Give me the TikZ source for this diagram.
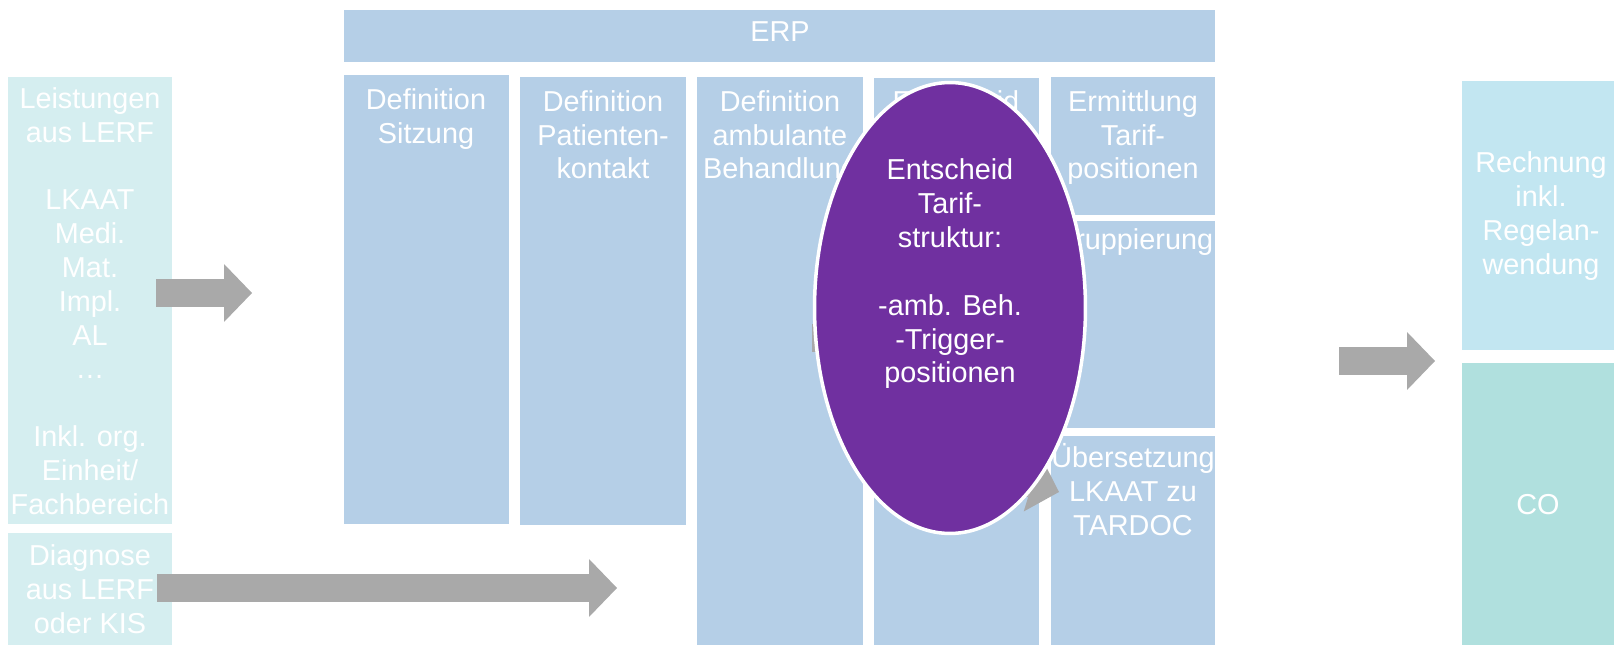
\documentclass[tikz,border=0pt]{standalone}
\usepackage{fontspec}
\setmainfont{Liberation Sans}
\usetikzlibrary{arrows.meta,shapes.geometric}
\definecolor{spalte}{HTML}{B5CFE7}
\definecolor{quelle}{HTML}{D5EEF0}
\definecolor{rechnung}{HTML}{C2E6F1}
\definecolor{co}{HTML}{B0E0DE}
\definecolor{pfeil}{HTML}{A9A9A9}
\definecolor{lila}{HTML}{7030A0}
\tikzset{
	txt/.style={text=white, align=center, inner sep=0pt, font=\fontsize{16.4}{19.25}\selectfont},
	kopf/.style={txt, anchor=north},
	blockpfeil/.style={draw=pfeil, line width=0.56cm, -{Triangle[width=1.16cm,length=0.56cm,line width=0pt]}}
}
\begin{document}
\begin{tikzpicture}[x=0.02cm,y=-0.02cm]
	\useasboundingbox (0,0) rectangle (1614,645);
\fill[spalte] (344,10) rectangle (1215,62);
\fill[quelle] (8,77) rectangle (172,524);
\fill[quelle] (8,533) rectangle (172,645);
\fill[spalte] (344,75) rectangle (509,524);
\fill[spalte] (520,77) rectangle (686,525);
\fill[spalte] (697,77) rectangle (863,645);
\fill[spalte] (874,78) rectangle (1039,645);
\fill[spalte] (1051,77) rectangle (1215,215);
\fill[spalte] (1051,221) rectangle (1215,428);
\fill[spalte] (1051,436) rectangle (1215,645);
\fill[rechnung] (1462,81) rectangle (1614,350);
\fill[co] (1462,363) rectangle (1614,645);
\node[txt] (erp) at (780,32) {ERP};
\node[txt] (leistungen) at (90,301) {Leistungen\\aus LERF\\~\\LKAAT\\Medi.\\Mat.\\Impl.\\AL\\…\\~\\Inkl. org.\\Einheit/\\Fachbereich};
\node[txt] (diagnose) at (90,589) {Diagnose\\aus LERF\\oder KIS};
\node[kopf] (sitzung) at (426,88) {Definition\\Sitzung};
\node[kopf] (kontakt) at (603,90) {Definition\\Patienten-\\kontakt};
\node[kopf] (behandlung) at (780,90) {Definition\\ambulante\\Behandlung};
\node[kopf] (entscheid) at (956,90) {Entscheid};
\node[kopf] (ermittlung) at (1133,90) {Ermittlung\\Tarif-\\positionen};
\node[kopf] (gruppierung) at (1133,228) {Gruppierung};
\node[kopf] (uebersetzung) at (1133,443) {Übersetzung\\LKAAT zu\\TARDOC};
\node[txt] (rechnung) at (1541,216) {Rechnung\\inkl.\\Regelan-\\wendung};
\node[txt] (co) at (1538,505) {CO};
\coordinate (p1a) at (156,293);
\coordinate (p1b) at (252,293);
\coordinate (p2a) at (157,588);
\coordinate (p2b) at (617,588);
\coordinate (p3a) at (812,338);
\coordinate (p3b) at (905,338);
\coordinate (p4a) at (916,448);
\coordinate (p4b) at (1059,492);
\coordinate (p5a) at (1339,361);
\coordinate (p5b) at (1435,361);
\draw[blockpfeil] (p1a) -- (p1b);
\draw[blockpfeil] (p2a) -- (p2b);
\draw[blockpfeil] (p3a) -- (p3b);
\draw[blockpfeil] (p4a) -- (p4b);
\draw[blockpfeil] (p5a) -- (p5b);
\node[ellipse, draw=white, fill=lila, line width=0.07cm, minimum width=5.42cm, minimum height=9.02cm, inner sep=0pt] (tarif) at (950,308) {};
\node[txt] (tariftext) at (950,274) {Entscheid\\Tarif-\\struktur:\\~\\-amb. Beh.\\-Trigger-\\positionen};
	\end{tikzpicture}
\end{document}
